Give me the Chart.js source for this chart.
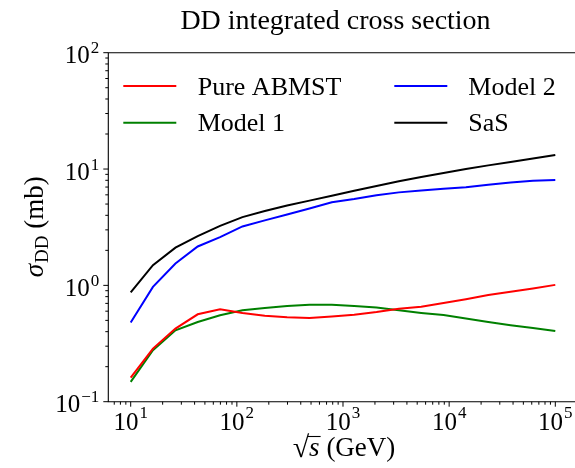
<!DOCTYPE html>
<html>
<head>
<meta charset="utf-8">
<script src="https://cdn.jsdelivr.net/npm/chart.js@4/dist/chart.umd.min.js"></script>
<style>
    html, body { margin: 0; padding: 0; background: #fff; overflow: hidden; }
</style>
</head>
<body>
<canvas id="ddChart" width="575" height="468"></canvas>
<script>
// sqrt(s) in GeV
const energies = [10, 16.2, 26.4, 42.8, 69.5, 112.9, 183.3, 297.6, 483.3, 784.8,
    1274, 2069, 3360, 5456, 8859, 14384, 23357, 37927, 61585, 100000];

// sigma_DD in mb
const pureAbmst = [0.161, 0.286, 0.425, 0.564, 0.622, 0.58, 0.547, 0.531, 0.524, 0.54,
    0.56, 0.59, 0.63, 0.655, 0.705, 0.76, 0.825, 0.88, 0.94, 1.01];
const model1 = [0.148, 0.277, 0.411, 0.484, 0.553, 0.61, 0.64, 0.665, 0.68, 0.68,
    0.665, 0.645, 0.61, 0.58, 0.555, 0.52, 0.485, 0.455, 0.43, 0.405];
const model2 = [0.48, 0.97, 1.54, 2.16, 2.60, 3.21, 3.62, 4.06, 4.58, 5.18,
    5.52, 5.95, 6.3, 6.54, 6.76, 6.98, 7.31, 7.65, 7.92, 8.05];
const sas = [0.87, 1.49, 2.11, 2.65, 3.25, 3.86, 4.35, 4.85, 5.35, 5.9,
    6.5, 7.15, 7.85, 8.55, 9.25, 10.0, 10.75, 11.5, 12.3, 13.2];

const seriesNames = ["Pure ABMST", "Model 1", "Model 2", "SaS"];
const seriesColors = ["#ff0000", "#008000", "#0000ff", "#000000"];

// tick labels are 10^exp
const xTickExps = [1, 2, 3, 4, 5];
const yTickExps = [-1, 0, 1, 2];

const SERIF = '"Liberation Serif", "DejaVu Serif", serif';

function pts(values) {
    return values.map((v, i) => ({ x: energies[i], y: v }));
}

// "10" with a raised exponent
function drawPow(ctx, exp, x, y, align, raise) {
    const expText = exp < 0 ? "\u2212" + Math.abs(exp) : String(exp);
    ctx.font = "25px " + SERIF;
    const wBase = ctx.measureText("10").width;
    ctx.font = "17px " + SERIF;
    const wExp = ctx.measureText(expText).width;
    const total = wBase + wExp + 1;
    let left = align === "center" ? x - total / 2 : x - total;
    ctx.textAlign = "left";
    ctx.textBaseline = "alphabetic";
    ctx.font = "25px " + SERIF;
    ctx.fillText("10", left, y);
    ctx.font = "17px " + SERIF;
    ctx.fillText(expText, left + wBase + 1, y - raise);
}

function logTicks(scale) {
    const out = [];
    const lo = Math.floor(Math.log10(scale.min));
    const hi = Math.ceil(Math.log10(scale.max));
    for (let e = lo; e <= hi; e++) {
        for (let m = 1; m <= 9; m++) {
            const v = m * Math.pow(10, e);
            if (v >= scale.min * 0.999 && v <= scale.max * 1.001) out.push({ v: v, major: m === 1 });
        }
    }
    return out;
}

const frame = {
    id: "frame",
    afterDatasetsDraw(chart) {
        const ctx = chart.ctx;
        const a = chart.chartArea;
        const xs = chart.scales.x;
        const ys = chart.scales.y;
        ctx.save();

        // spines
        ctx.strokeStyle = "#000";
        ctx.lineWidth = 1.1;
        ctx.beginPath();
        ctx.moveTo(a.right + 2, a.top);
        ctx.lineTo(a.left, a.top);
        ctx.lineTo(a.left, a.bottom);
        ctx.lineTo(a.right + 2, a.bottom);
        ctx.stroke();

        // ticks
        ctx.lineWidth = 1;
        ctx.beginPath();
        logTicks(xs).forEach(t => {
            const px = xs.getPixelForValue(t.v);
            ctx.moveTo(px, a.bottom);
            ctx.lineTo(px, a.bottom + (t.major ? 5 : 3));
        });
        logTicks(ys).forEach(t => {
            const py = ys.getPixelForValue(t.v);
            ctx.moveTo(a.left, py);
            ctx.lineTo(a.left - (t.major ? 5 : 3), py);
        });
        ctx.stroke();

        // tick labels
        ctx.fillStyle = "#000";
        xTickExps.forEach(e => {
            drawPow(ctx, e, xs.getPixelForValue(Math.pow(10, e)), a.bottom + 28.5, "center", 12);
        });
        yTickExps.forEach(e => {
            drawPow(ctx, e, a.left - 9, ys.getPixelForValue(Math.pow(10, e)) + 10.5, "right", 10);
        });

        // title
        ctx.font = "28px " + SERIF;
        ctx.textAlign = "center";
        ctx.fillText("DD integrated cross section", 335.5, 29.3);

        // x label: sqrt(s) (GeV)
        ctx.font = "30px " + SERIF;
        const rad = "\u221A";
        const wRad = ctx.measureText(rad).width;
        ctx.font = "italic 27px " + SERIF;
        const wS = ctx.measureText("s").width;
        ctx.font = "27px " + SERIF;
        const rest = " (GeV)";
        const wRest = ctx.measureText(rest).width;
        const xl = 344 - (wRad + wS + wRest) / 2;
        const xb = 456;
        ctx.textAlign = "left";
        ctx.font = "30px " + SERIF;
        ctx.fillText(rad, xl, xb + 1);
        ctx.font = "italic 27px " + SERIF;
        ctx.fillText("s", xl + wRad, xb);
        ctx.font = "27px " + SERIF;
        ctx.fillText(rest, xl + wRad + wS, xb);
        ctx.lineWidth = 1.1;
        ctx.beginPath();
        ctx.moveTo(xl + wRad - 1.5, xb - 19.5);
        ctx.lineTo(xl + wRad + wS + 1, xb - 19.5);
        ctx.stroke();

        // y label: sigma_DD (mb)
        ctx.save();
        ctx.translate(43, (a.top + a.bottom) / 2);
        ctx.rotate(-Math.PI / 2);
        ctx.font = "italic 27px " + SERIF;
        const wSig = ctx.measureText("\u03C3").width;
        ctx.font = "19px " + SERIF;
        const wSub = ctx.measureText("DD").width;
        ctx.font = "27px " + SERIF;
        const wMb = ctx.measureText(" (mb)").width;
        let yl = -(wSig + wSub + wMb) / 2;
        ctx.font = "italic 27px " + SERIF;
        ctx.fillText("\u03C3", yl, 0);
        ctx.font = "19px " + SERIF;
        ctx.fillText("DD", yl + wSig + 1, 5);
        ctx.font = "27px " + SERIF;
        ctx.fillText(" (mb)", yl + wSig + wSub + 1, 0);
        ctx.restore();

        // legend, two columns
        const cols = [[123.3, 197.7], [394.3, 468.3]];
        const rows = [86, 122.7];
        ctx.font = "26px " + SERIF;
        chart.data.datasets.forEach((ds, i) => {
            const c = cols[Math.floor(i / 2)];
            const r = rows[i % 2];
            ctx.strokeStyle = ds.borderColor;
            ctx.lineWidth = 2;
            ctx.beginPath();
            ctx.moveTo(c[0], r);
            ctx.lineTo(c[0] + 53, r);
            ctx.stroke();
            ctx.fillStyle = "#000";
            ctx.fillText(ds.label, c[1], r + 8.5);
        });

        ctx.restore();
    }
};

const allSeries = [pureAbmst, model1, model2, sas];

new Chart(document.getElementById("ddChart"), {
    type: "line",
    data: {
        datasets: allSeries.map((s, i) => ({
            label: seriesNames[i],
            data: pts(s),
            borderColor: seriesColors[i],
            backgroundColor: seriesColors[i],
            fill: false
        }))
    },
    options: {
        responsive: false,
        animation: false,
        layout: { padding: { left: 108.3, top: 52.7, right: 0, bottom: 66.3 } },
        elements: {
            point: { radius: 0 },
            line: { borderWidth: 2, tension: 0 }
        },
        plugins: {
            legend: { display: false },
            title: { display: false },
            tooltip: { enabled: false }
        },
        scales: {
            x: {
                type: "logarithmic",
                display: false,
                min: Math.pow(10, 0.789),
                max: Math.pow(10, 5.1856)
            },
            y: {
                type: "logarithmic",
                display: false,
                min: 0.1,
                max: 100
            }
        }
    },
    plugins: [frame]
});
</script>
</body>
</html>
